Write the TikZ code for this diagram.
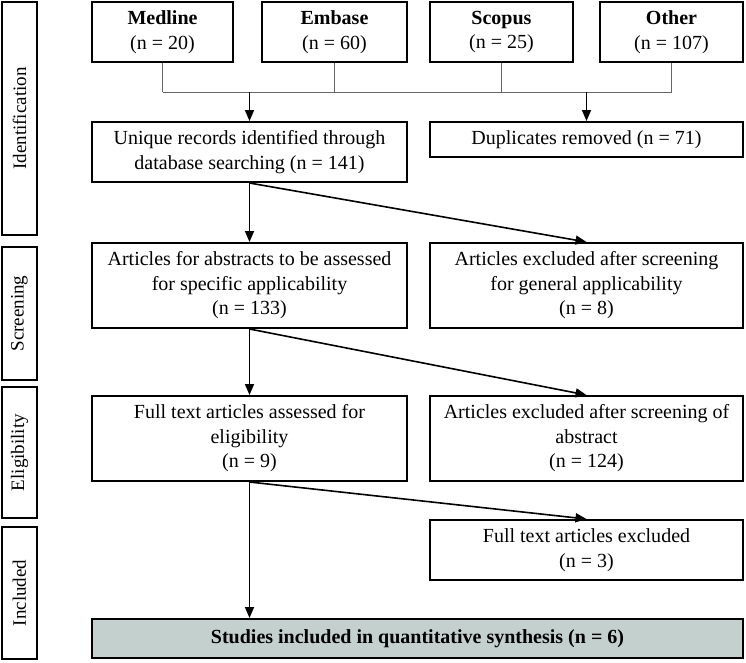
\documentclass[tikz,border=0pt]{standalone}
\usepackage{fontspec}
\setmainfont{Liberation Serif}
\usetikzlibrary{arrows.meta}
\definecolor{incfill}{RGB}{196,208,206}
\begin{document}
\begin{tikzpicture}[x=1pt,y=-1pt,
  box/.style={draw, line width=2pt, align=center, inner sep=0pt, font=\fontsize{20}{24.5}\selectfont},
  side/.style={box, rotate=90, minimum height=35pt, font=\fontsize{19}{24}\selectfont},
  bus/.style={draw=black!60, line width=1pt},
  arr/.style={line width=1.6pt, -{Triangle[length=11pt,width=9pt]}}]
\useasboundingbox (0,0) rectangle (746,662);
% side labels
\node[side, minimum width=233pt] (sid) at (19.5,118.5) {Identification};
\node[side, minimum width=133pt] (sscr) at (19.5,313.5) {Screening};
\node[side, minimum width=131pt] (seli) at (19.5,452.5) {Eligibility};
\node[side, minimum width=132pt] (sinc) at (19.5,593) {Included};
% sources
\node[box, minimum width=141pt, minimum height=60pt] (med) at (162.5,32) {\textbf{Medline}\\(n = 20)};
\node[box, minimum width=145pt, minimum height=60pt] (emb) at (334.5,32) {\textbf{Embase}\\(n = 60)};
\node[box, minimum width=143pt, minimum height=60pt] (sco) at (501.5,32) {\textbf{Scopus}\\(n = 25)};
\node[box, minimum width=143pt, minimum height=60pt] (oth) at (671.5,32) {\textbf{Other}\\(n = 107)};
% identification row
\node[box, minimum width=315pt, minimum height=60pt] (uni) at (249.5,152) {Unique records identified through\\database searching (n = 141)};
\node[box, minimum width=313pt, minimum height=35pt] (dup) at (586.5,139.5) {Duplicates removed (n = 71)};
% screening row
\node[box, minimum width=315pt, minimum height=85pt] (abs) at (249.5,285.5) {Articles for abstracts to be assessed\\for specific applicability\\(n = 133)};
\node[box, minimum width=313pt, minimum height=85pt] (ex1) at (586.5,285.5) {Articles excluded after screening\\for general applicability\\(n = 8)};
% eligibility row
\node[box, minimum width=315pt, minimum height=85pt] (ful) at (249.5,438.5) {Full text articles assessed for\\eligibility\\(n = 9)};
\node[box, minimum width=313pt, minimum height=85pt] (ex2) at (586.5,438.5) {Articles excluded after screening of\\abstract\\(n = 124)};
\node[box, minimum width=313pt, minimum height=60pt] (ex3) at (586.5,550) {Full text articles excluded\\(n = 3)};
% included
\node[box, fill=incfill, minimum width=651pt, minimum height=39pt] (stu) at (417.5,638.5) {\textbf{Studies included in quantitative synthesis (n = 6)}};
% bus
\coordinate (busy) at (0,92);
\draw[bus] (med.south) -- (med.south |- busy);
\draw[bus] (emb.south) -- (emb.south |- busy);
\draw[bus] (sco.south) -- (sco.south |- busy);
\draw[bus] (oth.south) -- (oth.south |- busy);
\draw[bus] (med.south |- busy) -- (oth.south |- busy);
\draw[arr] (uni.north |- busy) -- (uni.north);
\draw[arr] (dup.north |- busy) -- (dup.north);
% flow
\draw[arr] (uni.south) -- (abs.north);
\draw[arr] (uni.south) -- (ex1.north);
\draw[arr] (abs.south) -- (ful.north);
\draw[arr] (abs.south) -- (ex2.north);
\draw[arr] (ful.south) -- (ful.south |- stu.north);
\draw[arr] (ful.south) -- (ex3.north);
\end{tikzpicture}
\end{document}
